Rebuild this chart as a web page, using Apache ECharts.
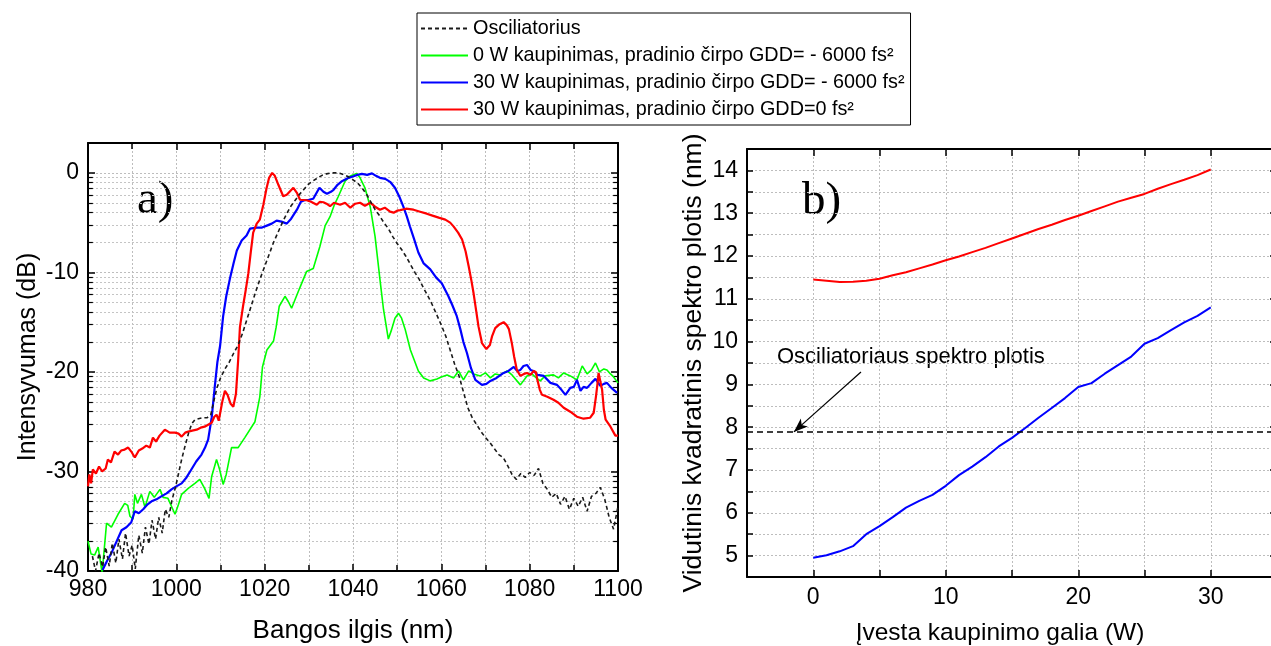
<!DOCTYPE html>
<html><head><meta charset="utf-8">
<script src="https://cdn.jsdelivr.net/npm/echarts@6.0.0/dist/echarts.min.js"></script>
<style>html,body{margin:0;padding:0;background:#fff}#c{width:1271px;height:646px}</style>
</head><body><div id="c"></div>
<script>
// ---------- Data: panel a) spectra (wavelength nm, intensity dB) ----------
const oscX = [981,981.7,982.5,983.3,984,984.8,985.5,986.3,987,987.8,988.5,989.3,990,990.7,991.5,992.3,993,993.8,994.5,995.3,996,996.8,997.5,998.3,999,999.8,1000.5,1001.2,1002,1002.8,1003.5,1004.2,1005,1006,1007,1007.8,1008.5,1009.2,1010,1011,1012,1013,1014,1015,1016,1017,1018,1019,1020,1021,1022,1023,1024,1025,1026,1027,1028,1029,1030,1031,1032,1033,1034,1035,1036,1037,1038,1039,1040,1041,1042,1043,1044,1045,1046,1047,1048,1049,1050,1051,1052,1053,1054,1055,1056,1057,1058,1059,1060,1061,1062,1063,1064,1065,1066,1067,1068,1069,1070,1071,1072,1073,1074,1075,1076,1077,1078,1079,1080,1081,1082,1083,1084,1085,1086,1087,1088,1089,1090,1091,1092,1093,1094,1095,1096,1097,1098,1099,1100];
const oscY = [-38.5,-40,-38.2,-39.6,-37.6,-39.5,-37.2,-39.2,-36.8,-38.8,-36.2,-38.5,-37.4,-39.8,-36.4,-38.2,-35.6,-37.3,-34.9,-36.8,-34.6,-36.2,-33.8,-34.6,-32.9,-31.6,-30.2,-28.8,-27.4,-26.1,-25.2,-24.8,-24.7,-24.6,-24.6,-24.3,-22.9,-21.6,-20.6,-19.7,-19.0,-18.1,-17.3,-16.1,-14.7,-13.3,-11.9,-10.6,-9.4,-8.2,-7.0,-6.0,-5.0,-4.1,-3.3,-2.7,-2.1,-1.6,-1.1,-0.8,-0.5,-0.25,-0.1,0,0,-0.05,-0.2,-0.4,-0.7,-1.0,-1.5,-2.1,-2.9,-3.7,-4.3,-5.0,-5.6,-6.4,-7.1,-7.7,-8.4,-9.2,-10.0,-10.7,-11.6,-12.4,-13.3,-14.3,-15.3,-16.4,-17.8,-19.2,-20.4,-22.0,-23.6,-24.6,-25.3,-26.0,-26.6,-27.1,-27.7,-28.3,-28.6,-29.4,-30.3,-30.8,-30.2,-30.6,-30.1,-30.4,-29.7,-31.2,-31.8,-32.6,-32.2,-33.3,-32.5,-33.8,-32.7,-33.5,-32.6,-34.0,-32.5,-32.2,-31.6,-32.8,-34.6,-35.8,-33.5];

const greenX = [980,980.7,981.5,982.3,983.2,984.2,985.3,986.8,988.3,989,989.5,990.2,990.6,991.2,992.1,992.9,994,995,996.3,997,998.1,999,999.7,1000.5,1001.2,1002.7,1004.2,1005.3,1006.4,1007.4,1008,1009.1,1009.8,1010.6,1011.3,1012.5,1014,1015.5,1017.8,1018.9,1019.5,1020.5,1022,1022.6,1023.3,1024.6,1025.3,1026.1,1027,1028,1029.5,1031,1032.5,1033.7,1034.8,1035.7,1036.7,1038.2,1039.3,1040.1,1040.8,1041.6,1042.7,1043.9,1045,1046.1,1046.9,1048,1048.7,1049.5,1050.3,1051,1051.8,1053,1054.8,1056,1057.5,1059,1060,1061.3,1062.8,1063.9,1065,1066.2,1067.3,1068.8,1070,1071.1,1072.2,1073.3,1074.9,1076,1077.9,1079.4,1080.5,1081.5,1082.4,1083.5,1085.4,1086.5,1087.7,1089.2,1090.7,1091.9,1093,1094,1094.9,1095.8,1096.8,1097.5,1098.3,1099,1100];
const greenY = [-37.0,-38.3,-38.4,-37.6,-40.2,-35.2,-35.6,-34.3,-33.2,-33.4,-34.5,-34.8,-32.3,-33.2,-32.3,-33.6,-32.0,-32.6,-31.8,-32.6,-32.7,-33.6,-34.3,-33.3,-32.3,-31.7,-31.2,-30.8,-31.7,-32.7,-30.5,-28.8,-29.8,-31.3,-30.3,-27.6,-27.6,-26.6,-25.0,-22.5,-19.5,-17.8,-16.9,-15.5,-13.4,-12.4,-12.9,-13.6,-12.6,-11.5,-9.9,-9.6,-7.4,-5.3,-4.4,-3.3,-2.35,-0.84,-0.35,-0.2,-0.05,-0.5,-1.5,-3.4,-6.4,-10.7,-13.7,-16.7,-15.8,-14.6,-14.1,-14.6,-15.7,-17.8,-19.9,-20.6,-20.9,-20.7,-20.5,-20.3,-20.6,-19.9,-20.8,-19.9,-20.2,-20.4,-20.1,-20.6,-20.2,-20.3,-19.9,-20.3,-21.3,-20.4,-20.2,-20.6,-20.9,-20.4,-20.3,-20.6,-20.1,-20.4,-20.8,-19.4,-20.2,-19.8,-19.1,-20.0,-19.7,-19.8,-20.2,-20.5,-21.1];

const blueX = [983.3,984.3,985.3,986.5,987.6,988.7,989.8,990.6,991.5,992.5,993.5,994.4,995.5,996.6,997.8,998.9,1000,1001.2,1002.3,1003.4,1004.5,1005.7,1006.5,1007.2,1008,1008.7,1009.3,1009.9,1010.6,1011.3,1012.1,1013,1013.7,1014.8,1015.9,1016.7,1018.2,1019.4,1020.5,1021.6,1022.7,1023.8,1025,1026,1027.3,1028.2,1029,1030,1031,1032.4,1033.3,1034.1,1035,1035.6,1036.5,1037.5,1039,1040.1,1041,1042,1043.2,1044.3,1045.2,1046.1,1047.3,1048.4,1049.5,1050.5,1051.4,1052.2,1052.9,1053.8,1054.8,1056,1057.5,1058.8,1060.1,1061.6,1062.5,1063.5,1064.3,1065,1065.8,1066.7,1067.7,1069.2,1070.2,1071.1,1072.5,1074.1,1075.2,1076.4,1077.2,1077.9,1078.6,1079.4,1080.2,1080.9,1081.8,1083.2,1084.7,1086.2,1087.2,1088.1,1089.2,1090,1090.7,1091.5,1092.2,1093,1094,1094.9,1096,1096.8,1097.5,1098.5,1099.8];
const blueY = [-39.9,-39.0,-38.2,-37.0,-35.9,-35.6,-35.1,-34.0,-34.2,-33.8,-33.3,-33.0,-32.8,-32.5,-32.2,-31.8,-31.5,-31.2,-30.6,-29.8,-29.0,-28.3,-27.6,-26.8,-24.6,-21.5,-19.0,-17.4,-14.4,-12.4,-10.7,-9.0,-7.8,-6.8,-6.3,-5.6,-5.5,-5.5,-5.3,-5.1,-4.8,-4.9,-5.1,-4.6,-3.7,-2.9,-2.75,-2.7,-2.6,-1.5,-1.9,-2.1,-1.9,-1.7,-1.2,-0.84,-0.5,-0.34,-0.2,-0.1,-0.2,-0.05,-0.3,-0.5,-0.6,-0.9,-1.5,-2.4,-3.4,-4.4,-5.4,-6.6,-8.0,-9.1,-9.7,-10.5,-11.1,-12.4,-13.3,-14.4,-15.7,-17.0,-18.1,-19.6,-20.8,-21.3,-21.2,-20.9,-20.6,-20.1,-19.9,-19.5,-19.9,-19.8,-19.4,-19.3,-19.8,-19.9,-20.3,-20.4,-21.1,-21.3,-21.8,-22.3,-21.6,-21.5,-20.8,-21.9,-21.5,-21.6,-21.1,-20.7,-21.4,-21.2,-21.1,-21.6,-22.1];

const redX = [980,980.3,980.7,981.1,981.8,982.5,983.2,984,984.5,985.2,986,986.8,987.5,988.3,989.1,989.8,990.6,991.5,992.3,993.2,994,994.7,995.4,996.2,997.4,998.5,999.7,1000.5,1001.2,1002,1002.7,1003.6,1004.6,1005.5,1006.4,1007.2,1008,1008.6,1009.1,1009.6,1009.9,1010.4,1011,1011.6,1012.3,1012.9,1013.5,1014,1014.4,1015.1,1015.7,1016.3,1016.9,1017.4,1018.2,1018.9,1019.7,1020.4,1021,1021.7,1022.3,1023.1,1024.2,1025,1026.5,1027.3,1028,1029.5,1030.5,1031.8,1032.5,1033.3,1034,1034.8,1035.7,1037.1,1038.2,1039.4,1040.5,1041.6,1042.7,1043.9,1045,1046.1,1047.2,1048.4,1049.2,1050,1050.7,1052,1053.7,1055.2,1056.7,1058,1059.4,1060.9,1062,1062.8,1063.8,1064.7,1065.5,1066.2,1066.8,1067.3,1067.9,1068.4,1069.2,1070.2,1071,1071.5,1072.2,1073.2,1074.1,1074.8,1075.3,1076,1076.5,1077.1,1077.9,1078.7,1079.4,1080.2,1080.9,1081.4,1081.7,1082.3,1082.8,1084,1085.4,1086.5,1087.7,1089.2,1090.7,1092.2,1093.7,1094.5,1095,1095.3,1095.6,1096,1096.4,1096.8,1097.2,1098.3,1099.4,1100];
const redY = [-31.5,-30.3,-31.2,-29.8,-30.2,-29.5,-30.0,-29.7,-28.8,-29.1,-28.0,-28.3,-27.9,-27.8,-27.6,-28.0,-28.6,-27.9,-27.7,-27.4,-27.6,-26.6,-27.0,-26.4,-25.8,-26.1,-26.1,-26.2,-26.5,-26.1,-26.0,-25.9,-25.8,-25.6,-25.5,-25.3,-25.1,-24.5,-24.3,-24.9,-25.1,-23.0,-21.9,-22.3,-23.2,-23.5,-22.2,-18.8,-15.5,-13.4,-11.8,-10.1,-7.8,-6.0,-5.1,-4.7,-3.2,-1.6,-0.5,0,-0.3,-1.2,-2.35,-2.2,-1.5,-2.0,-2.7,-2.75,-2.9,-3.2,-2.9,-2.95,-3.1,-3.35,-3.0,-3.2,-3.0,-3.5,-3.1,-3.0,-3.3,-3.0,-3.4,-3.7,-3.5,-3.9,-4.0,-3.8,-3.75,-3.6,-3.7,-3.9,-4.1,-4.3,-4.5,-4.7,-5.0,-5.4,-6.0,-6.7,-7.9,-9.4,-10.8,-12.1,-13.9,-15.4,-17.1,-17.7,-17.3,-16.4,-15.6,-15.2,-15.0,-15.3,-15.7,-17.2,-18.5,-19.8,-20.4,-20.2,-20.1,-20.3,-19.9,-20.0,-20.7,-21.8,-22.3,-22.5,-22.8,-23.1,-23.6,-24.0,-24.5,-24.7,-24.6,-24.1,-22.5,-21.4,-20.1,-20.3,-21.8,-23.8,-24.8,-25.5,-26.4,-26.4];

// ---------- Data: panel b) RMS spectral width vs pump power ----------
const powerW = [0,1,2,3,4,5,6,7,8,9,10,11,12,13,14,15,16,17,18,19,20,21,22,23,24,25,26,27,28,29,30];
const widthGdd0 = [11.45,11.42,11.39,11.40,11.42,11.47,11.55,11.62,11.71,11.80,11.90,11.99,12.09,12.19,12.30,12.41,12.52,12.63,12.73,12.84,12.94,13.05,13.16,13.27,13.36,13.45,13.57,13.68,13.78,13.89,14.02];
const widthGdd6000 = [4.95,5.01,5.10,5.22,5.50,5.69,5.90,6.12,6.28,6.42,6.63,6.88,7.08,7.30,7.55,7.75,7.98,8.22,8.45,8.68,8.94,9.03,9.25,9.45,9.65,9.95,10.08,10.27,10.45,10.60,10.80];
const oscillatorWidth = 7.89;
const arrowFrom = [3.6, 9.29];
const arrowTo = [-1.46, 7.89];

const legendNames = ['Osciliatorius',
  '0 W kaupinimas, pradinio čirpo GDD= - 6000 fs²',
  '30 W kaupinimas, pradinio čirpo GDD= - 6000 fs²',
  '30 W kaupinimas, pradinio čirpo GDD=0 fs²'];

// ---------- Build ----------
const FONT = '"Liberation Sans", Arial, sans-serif';
const SERIF = '"Liberation Serif", "Times New Roman", serif';
const zip = (xs, ys) => xs.map((x, i) => [x, ys[i]]);
const gridLine = {color: '#bdbdbd', type: [2, 2], width: 1};
const black = '#000';

// log-style minor grid of panel a)
const minorGrid = [];
[0, -10, -20, -30].forEach(d => {
  for (let k = 2; k <= 9; k++) {
    const y = d - 10 * (1 - Math.log10(k));
    minorGrid.push({yAxis: y, lineStyle: {color: '#c4c4c4', type: [2, 2], width: 1}});
    minorGrid.push([{coord: [980, y], lineStyle: {color: black, type: 'solid', width: 1.2}}, {coord: [981.1, y]}]);
    minorGrid.push([{coord: [1098.9, y], lineStyle: {color: black, type: 'solid', width: 1.2}}, {coord: [1100, y]}]);
  }
});

const labelStyle = {fontSize: 23, color: black, fontFamily: FONT};
const nameStyle = (fs, extra) => Object.assign({fontSize: fs, color: black, fontFamily: FONT}, extra || {});
const axLine = {onZero: false, lineStyle: {color: black, width: 2}};
const tickIn = (len) => ({inside: true, length: len, lineStyle: {color: black, width: 1.5}});

const chart = echarts.init(document.getElementById('c'), null, {renderer: 'canvas'});
chart.setOption({
  animation: false,
  backgroundColor: '#fff',
  grid: [
    {left: 88, top: 143, width: 530, height: 428, outerBoundsMode: 'none', containLabel: false},
    {left: 747, top: 149, width: 530, height: 428, outerBoundsMode: 'none', containLabel: false}
  ],
  legend: {
    orient: 'vertical', left: 417, top: 13,
    data: legendNames,
    itemWidth: 47, itemHeight: 14, itemGap: 6,
    padding: [5, 6, 5, 3],
    borderColor: black, borderWidth: 1, borderRadius: 0,
    backgroundColor: '#fff',
    selectedMode: false,
    itemStyle: {opacity: 0, borderWidth: 0},
    textStyle: {fontSize: 19.8, color: black, fontFamily: FONT, lineHeight: 21}
  },
  xAxis: [
    {gridIndex: 0, type: 'value', min: 980, max: 1100, interval: 20, position: 'bottom',
      axisLine: axLine, axisTick: tickIn(7),
      minorTick: {show: true, splitNumber: 2, length: 6, lineStyle: {color: black, width: 1.5}},
      axisLabel: Object.assign({margin: 7, formatter: v => String(v)}, labelStyle),
      splitLine: {show: true, lineStyle: gridLine},
      minorSplitLine: {show: true, lineStyle: gridLine},
      name: 'Bangos ilgis (nm)', nameLocation: 'middle', nameGap: 47, nameTextStyle: nameStyle(26)},
    {gridIndex: 0, type: 'value', min: 980, max: 1100, interval: 20, position: 'top',
      axisLine: axLine, axisTick: tickIn(7),
      minorTick: {show: true, splitNumber: 2, length: 6, lineStyle: {color: black, width: 1.5}},
      axisLabel: {show: false}, splitLine: {show: false}},
    {gridIndex: 1, type: 'value', min: -5, max: 35, interval: 5, position: 'bottom',
      axisLine: axLine, axisTick: tickIn(7),
      axisLabel: Object.assign({margin: 9, formatter: v => (v % 10 === 0 && v >= 0 && v <= 30) ? String(v) : ''}, labelStyle),
      splitLine: {show: true, lineStyle: gridLine},
      name: 'Įvesta kaupinimo galia (W)', nameLocation: 'middle', nameGap: 44,
      nameTextStyle: nameStyle(24.5, {padding: [0, 24, 0, 0]})},
    {gridIndex: 1, type: 'value', min: -5, max: 35, interval: 5, position: 'top',
      axisLine: axLine, axisTick: tickIn(7), axisLabel: {show: false}, splitLine: {show: false}}
  ],
  yAxis: [
    {gridIndex: 0, type: 'value', min: -40, max: 3, interval: 10, position: 'left',
      axisLine: axLine, axisTick: tickIn(7),
      axisLabel: Object.assign({margin: 9, showMaxLabel: false}, labelStyle),
      splitLine: {show: true, lineStyle: gridLine},
      name: 'Intensyvumas (dB)', nameLocation: 'middle', nameGap: 47, nameTextStyle: nameStyle(25)},
    {gridIndex: 0, type: 'value', min: -40, max: 3, interval: 10, position: 'right',
      axisLine: axLine, axisTick: tickIn(7), axisLabel: {show: false}, splitLine: {show: false}},
    {gridIndex: 1, type: 'value', min: 4.5, max: 14.5, interval: 0.5, position: 'left',
      axisLine: axLine, axisTick: tickIn(6),
      axisLabel: Object.assign({margin: 9, formatter: v => Number.isInteger(v) ? String(v) : ''}, labelStyle),
      splitLine: {show: true, lineStyle: gridLine},
      name: 'Vidutinis kvadratinis spektro plotis (nm)', nameLocation: 'middle', nameGap: 40, nameTextStyle: nameStyle(26.5)},
    {gridIndex: 1, type: 'value', min: 4.5, max: 14.5, splitNumber: 10, position: 'right',
      axisLine: axLine, axisTick: tickIn(7), axisLabel: {show: false}, splitLine: {show: false}}
  ],
  series: [
    {name: legendNames[1], type: 'line', xAxisIndex: 0, yAxisIndex: 0, data: zip(greenX, greenY),
      symbol: 'none', showSymbol: false, z: 3,
      lineStyle: {color: '#00ff00', width: 1.6}, itemStyle: {color: '#00ff00'}},
    {name: legendNames[2], type: 'line', xAxisIndex: 0, yAxisIndex: 0, data: zip(blueX, blueY),
      symbol: 'none', showSymbol: false, z: 3,
      lineStyle: {color: '#0000ff', width: 2.2}, itemStyle: {color: '#0000ff'}},
    {name: legendNames[3], type: 'line', xAxisIndex: 0, yAxisIndex: 0, data: zip(redX, redY),
      symbol: 'none', showSymbol: false, z: 3,
      lineStyle: {color: '#ff0000', width: 2.2}, itemStyle: {color: '#ff0000'}},
    {name: legendNames[0], type: 'line', xAxisIndex: 0, yAxisIndex: 0, data: zip(oscX, oscY),
      symbol: 'none', showSymbol: false, z: 4,
      lineStyle: {color: '#1a1a1a', width: 1.6, type: [4, 3]}, itemStyle: {color: '#1a1a1a'},
      markLine: {silent: true, symbol: ['none', 'none'], z: 1, label: {show: false},
        emphasis: {disabled: true}, animation: false, data: minorGrid}},
    {name: 'Plotis GDD=0', type: 'line', xAxisIndex: 2, yAxisIndex: 2, data: zip(powerW, widthGdd0),
      symbol: 'none', showSymbol: false, z: 3,
      lineStyle: {color: '#ff0000', width: 2}, itemStyle: {color: '#ff0000'}},
    {name: 'Plotis GDD=-6000', type: 'line', xAxisIndex: 2, yAxisIndex: 2, data: zip(powerW, widthGdd6000),
      symbol: 'none', showSymbol: false, z: 3,
      lineStyle: {color: '#0000ff', width: 2}, itemStyle: {color: '#0000ff'},
      markLine: {silent: true, z: 4, symbol: ['none', 'none'], label: {show: false}, emphasis: {disabled: true}, animation: false,
        data: [
          {yAxis: oscillatorWidth, lineStyle: {color: black, type: [6, 4], width: 1.5}},
          [{coord: arrowFrom, symbol: 'none', lineStyle: {color: black, type: 'solid', width: 1.2}},
           {coord: arrowTo, symbol: 'arrow', symbolSize: [8, 14]}]
        ]}}
  ],
  graphic: [
    {type: 'text', left: 137, top: 177, silent: true, style: {text: 'a)', font: '47px ' + SERIF, fill: black}},
    {type: 'text', left: 802, top: 178, silent: true, style: {text: 'b)', font: '47px ' + SERIF, fill: black}},
    {type: 'text', left: 777, top: 346, silent: true, style: {text: 'Osciliatoriaus spektro plotis', font: '22px ' + FONT, fill: black}}
  ]
});
</script>
</body></html>
